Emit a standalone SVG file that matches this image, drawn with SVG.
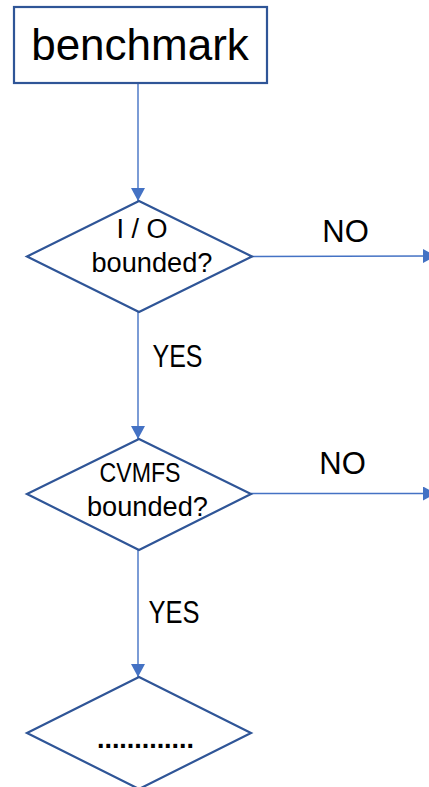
<svg xmlns="http://www.w3.org/2000/svg" width="429" height="787" viewBox="0 0 429 787">
<defs>
<style>
.shape{fill:#ffffff;stroke:#2F5597;stroke-width:2.2}
.conn{fill:none;stroke:#4472C4;stroke-width:1.4}
.t{font-family:"Liberation Sans",Arial,sans-serif;fill:#000000;text-anchor:middle}
.d{font-size:27px}
.lbl{font-size:31px}
</style>
<marker id="arr" markerUnits="userSpaceOnUse" markerWidth="14" markerHeight="14" refX="13" refY="7" orient="auto">
<path d="M0,0 L13,7 L0,14 z" fill="#4472C4"/>
</marker>
</defs>
<rect width="429" height="787" fill="#ffffff"/>
<g id="connectors">
<line class="conn" x1="138" y1="84" x2="138" y2="201" marker-end="url(#arr)"/>
<line class="conn" x1="138" y1="312" x2="138" y2="439" marker-end="url(#arr)"/>
<line class="conn" x1="138" y1="550" x2="138" y2="677" marker-end="url(#arr)"/>
<line class="conn" x1="252" y1="256.5" x2="436" y2="256" marker-end="url(#arr)"/>
<line class="conn" x1="251" y1="493.5" x2="436" y2="493.5" marker-end="url(#arr)"/>
<text class="t lbl" x="345.5" y="242">NO</text>
<text class="t lbl" x="177.5" y="367" textLength="50" lengthAdjust="spacingAndGlyphs">YES</text>
<text class="t lbl" x="342.5" y="474">NO</text>
<text class="t lbl" x="174" y="623" textLength="51" lengthAdjust="spacingAndGlyphs">YES</text>
</g>
<g id="benchmark">
<rect class="shape" x="14" y="7" width="253" height="76"/>
<text class="t" x="140" y="60" font-size="44">benchmark</text>
</g>
<g id="io-bounded">
<polygon class="shape" points="139,201 252,256.5 139,312 27,256.5"/>
<text class="t d" x="142" y="238">I / O</text>
<text class="t d" x="152" y="272" textLength="121" lengthAdjust="spacingAndGlyphs">bounded?</text>
</g>
<g id="cvmfs-bounded">
<polygon class="shape" points="139,439 251,494 139,550 27,494"/>
<text class="t d" x="140" y="482" textLength="81" lengthAdjust="spacingAndGlyphs">CVMFS</text>
<text class="t d" x="147.5" y="516" textLength="121" lengthAdjust="spacingAndGlyphs">bounded?</text>
</g>
<g id="next">
<polygon class="shape" points="139,677 251,733 139,789 27,733"/>
<text class="t d" x="145.5" y="748" textLength="97" lengthAdjust="spacing" font-weight="bold">.............</text>
</g>
</svg>
